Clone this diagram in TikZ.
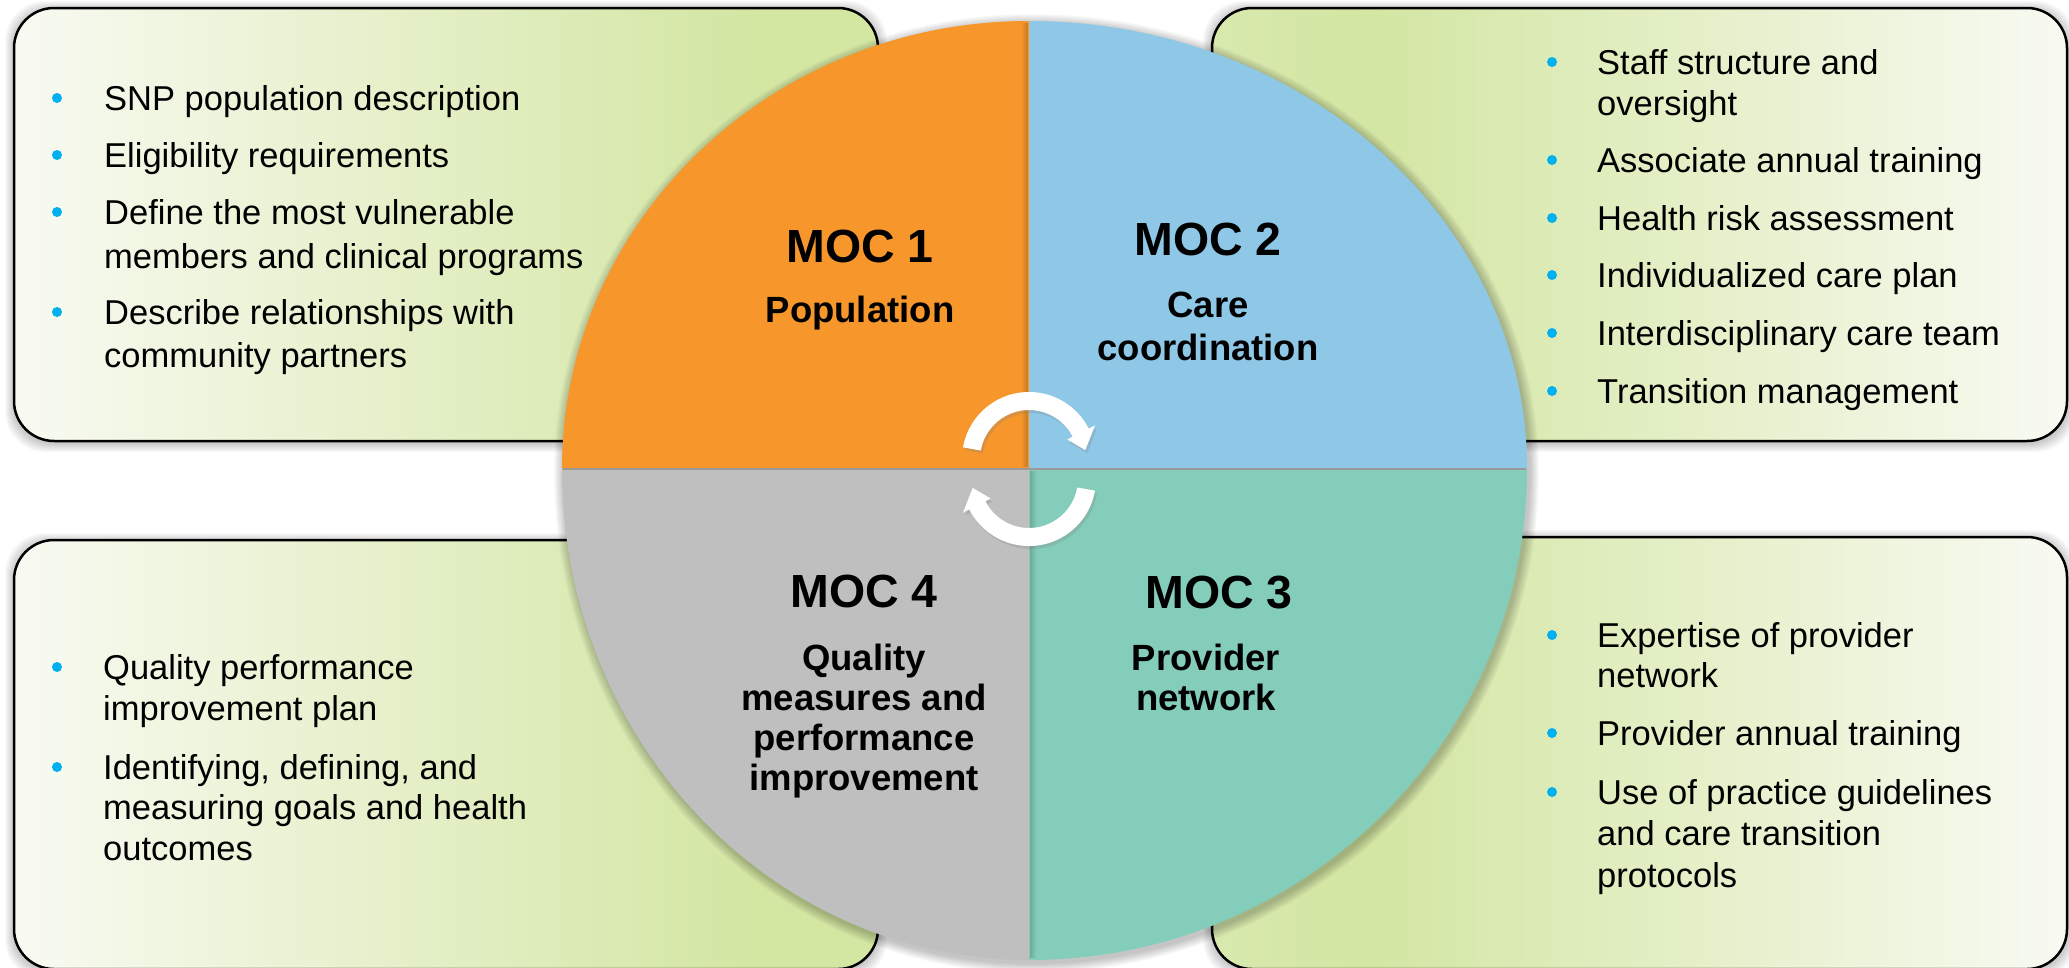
\documentclass[tikz,border=0pt]{standalone}
\usepackage{fontspec}
\setmainfont{Liberation Sans}
\usetikzlibrary{shadows}

\definecolor{mocorange}{RGB}{247,150,43}
\definecolor{mocblue}{RGB}{143,200,230}
\definecolor{mocteal}{RGB}{132,205,186}
\definecolor{mocgray}{RGB}{191,191,191}
\definecolor{boxgreen}{RGB}{211,230,162}
\definecolor{boxlight}{RGB}{248,250,242}
\definecolor{bulletblue}{RGB}{0,176,240}

\pgfdeclarehorizontalshading{fadeleft}{100bp}{color(0bp)=(boxlight); color(25bp)=(boxlight); color(68bp)=(boxgreen); color(75bp)=(boxgreen); color(100bp)=(boxgreen)}
\pgfdeclarehorizontalshading{faderight}{100bp}{color(0bp)=(boxgreen); color(25bp)=(boxgreen!85!boxlight); color(34bp)=(boxgreen); color(75bp)=(boxlight); color(100bp)=(boxlight)}

% outline of the four quarters, grown by #1
\newcommand{\mocoutline}[1]{(1029,469) ++(-467-#1,0)
  arc[start angle=180,end angle=270,x radius=467+#1,y radius=448+#1]
  arc[start angle=270,end angle=360,x radius=498+#1,y radius=448+#1]
  arc[start angle=0,end angle=90,x radius=498+#1,y radius=491+#1]
  arc[start angle=90,end angle=180,x radius=467+#1,y radius=491+#1] -- cycle}

\tikzset{
  boxframe/.style={draw=black, line width=2.5, rounded corners=40, shade},
  bullettext/.style={anchor=base west, inner sep=0, font=\fontsize{34.5}{41.5}\selectfont},
  moctitle/.style={anchor=base, inner sep=0, font=\fontsize{46.5}{50}\selectfont\bfseries},
  mocsub/.style={anchor=base, inner sep=0, font=\fontsize{36.5}{40}\selectfont\bfseries},
  cyclearrow/.style={fill=white, drop shadow={opacity=0.25, shadow xshift=2pt, shadow yshift=-3pt}}
}

\begin{document}
\begin{tikzpicture}[x=1pt, y=-1pt]
    \useasboundingbox (0,0) rectangle (2069,967);
    \fill[white] (0,0) rectangle (2069,967);

    % Box shadows
    \foreach \xa/\ya/\xb/\yb in {14/8/878/441, 1212/8/2067/441, 14/540/878/969, 1212/537/2067/969} {
        \foreach \d in {1,...,9} {
            \fill[black, opacity=0.025, rounded corners=40] (\xa-\d,\ya-\d+2) rectangle (\xb+\d,\yb+\d+2);
        }
    }

    % Boxes
    \draw[boxframe, shading=fadeleft] (14,8) rectangle (878,441);
    \draw[boxframe, shading=faderight] (1212,8) rectangle (2067,441);
    \draw[boxframe, shading=fadeleft] (14,540) rectangle (878,969);
    \draw[boxframe, shading=faderight] (1212,537) rectangle (2067,969);

    % Circle shadow
    \foreach \d in {1,...,10} {
        \fill[black, opacity=0.025, shift={(2,3)}] \mocoutline{\d};
    }

    % Quarters
    \fill[mocorange] (1029,469) -- ++(-467,0) arc[start angle=180, end angle=270, x radius=467, y radius=448] -- cycle;
    \fill[mocblue] (1029,469) -- ++(0,-448) arc[start angle=270, end angle=360, x radius=498, y radius=448] -- cycle;
    \fill[mocteal] (1029,469) -- ++(498,0) arc[start angle=0, end angle=90, x radius=498, y radius=491] -- cycle;
    \fill[mocgray] (1029,469) -- ++(0,491) arc[start angle=90, end angle=180, x radius=467, y radius=491] -- cycle;

    % Split lines
    \foreach \w in {2,4,6} {
        \draw[black, opacity=0.05, line width=\w] (1028-\w/2,23) -- (1028-\w/2,467);
        \draw[black, opacity=0.05, line width=\w] (1030+\w/2,471) -- (1030+\w/2,958);
    }
    \draw[black!40, line width=1.5] (563,469) -- (1526,469);

    % Cycle arrows
    \coordinate (upc) at (1029,459);
    \coordinate (dnc) at (1029,479);
    \fill[cyclearrow] ([shift={(190:67)}]upc) arc[start angle=190, end angle=333, radius=67]
        -- ([shift={(333:74)}]upc) -- ([shift={(351:57)}]upc) -- ([shift={(333:43)}]upc)
        -- ([shift={(333:49)}]upc) arc[start angle=333, end angle=190, radius=49] -- cycle;
    \fill[cyclearrow] ([shift={(10:67)}]dnc) arc[start angle=10, end angle=153, radius=67]
        -- ([shift={(153:74)}]dnc) -- ([shift={(171:57)}]dnc) -- ([shift={(153:43)}]dnc)
        -- ([shift={(153:49)}]dnc) arc[start angle=153, end angle=10, radius=49] -- cycle;

    % Quarter labels
    \node[moctitle] (moc1) at (860,262) {MOC 1};
    \node[mocsub] (pop) at (860,322) {Population};
    \node[moctitle] (moc2) at (1208,255) {MOC 2};
    \foreach \y/\t in {317/Care, 360/coordination} {
        \node[mocsub] (care\y) at (1208,\y) {\t};
    }
    \node[moctitle] (moc3) at (1219,608) {MOC 3};
    \foreach \y/\t in {670/Provider, 710/network} {
        \node[mocsub] (prov\y) at (1206,\y) {\t};
    }
    \node[moctitle] (moc4) at (864,607) {MOC 4};
    \foreach \y/\t in {670/Quality, 710/measures and, 750/performance, 790/improvement} {
        \node[mocsub] (qual\y) at (864,\y) {\t};
    }

    % Top left list
    \foreach \y/\t in {110/SNP population description, 167/Eligibility requirements,
        224/Define the most vulnerable, 268/members and clinical programs,
        324/Describe relationships with, 367/community partners} {
        \node[bullettext] (tl\y) at (104,\y) {\t};
    }
    \foreach \y in {98,155,212,312} {
        \fill[bulletblue] (57,\y) circle (5);
    }

    % Top right list
    \foreach \y/\t in {74/Staff structure and, 115/oversight, 172/Associate annual training,
        230/Health risk assessment, 287/Individualized care plan,
        345/Interdisciplinary care team, 403/Transition management} {
        \node[bullettext] (tr\y) at (1597,\y) {\t};
    }
    \foreach \y in {62,160,218,275,333,391} {
        \fill[bulletblue] (1552,\y) circle (5);
    }

    % Bottom left list
    \foreach \y/\t in {679/Quality performance, 720/improvement plan,
        779/{Identifying, defining, and}, 819/measuring goals and health, 860/outcomes} {
        \node[bullettext] (bl\y) at (103,\y) {\t};
    }
    \foreach \y in {667,767} {
        \fill[bulletblue] (57,\y) circle (5);
    }

    % Bottom right list
    \foreach \y/\t in {647/Expertise of provider, 687/network, 745/Provider annual training,
        804/Use of practice guidelines, 845/and care transition, 887/protocols} {
        \node[bullettext] (br\y) at (1597,\y) {\t};
    }
    \foreach \y in {635,733,792} {
        \fill[bulletblue] (1552,\y) circle (5);
    }
\end{tikzpicture}
\end{document}
